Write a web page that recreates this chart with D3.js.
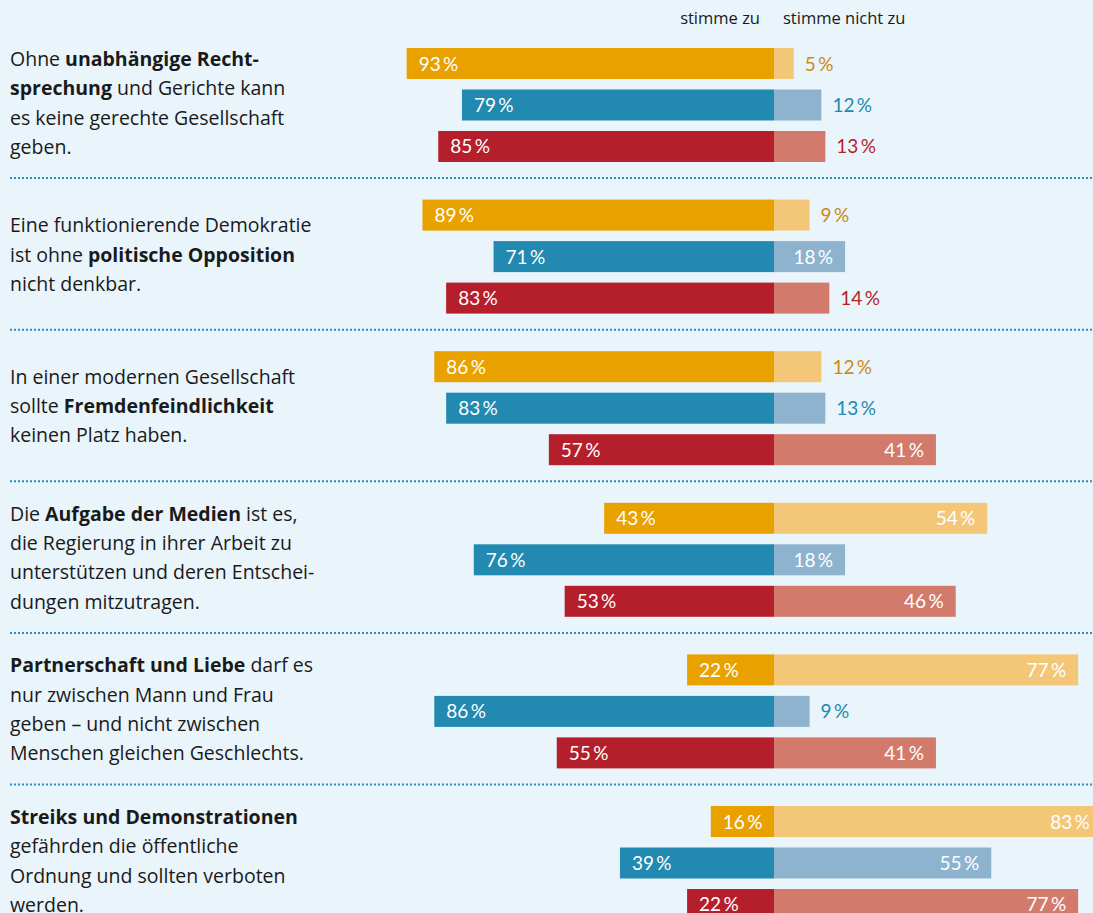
<!DOCTYPE html>
<html>
<head>
<meta charset="utf-8">
<script src="https://cdn.jsdelivr.net/npm/d3@7"></script>
<style>
  html, body { margin: 0; padding: 0; background: #e9f4fb; }
  svg { display: block; font-family: "Open Sans", Lato, sans-serif; }
</style>
</head>
<body>
<div id="container"></div>
<script>
// statements, one entry per line, **...** marks bold words
var statements = [
    ['Ohne **unabhängige Recht-**', '**sprechung** und Gerichte kann', 'es keine gerechte Gesellschaft', 'geben.'],
    ['Eine funktionierende Demokratie', 'ist ohne **politische Opposition**', 'nicht denkbar.'],
    ['In einer modernen Gesellschaft', 'sollte **Fremdenfeindlichkeit**', 'keinen Platz haben.'],
    ['Die **Aufgabe der Medien** ist es,', 'die Regierung in ihrer Arbeit zu', 'unterstützen und deren Entschei-', 'dungen mitzutragen.'],
    ['**Partnerschaft und Liebe** darf es', 'nur zwischen Mann und Frau', 'geben – und nicht zwischen', 'Menschen gleichen Geschlechts.'],
    ['**Streiks und Demonstrationen**', 'gefährden die öffentliche', 'Ordnung und sollten verboten', 'werden.']
];
var series = ['orange', 'blue', 'red'];
var agree = {
    orange: [93, 89, 86, 43, 22, 16],
    blue:   [79, 71, 83, 76, 86, 39],
    red:    [85, 83, 57, 53, 55, 22]
};
var disagree = {
    orange: [5, 9, 12, 54, 77, 83],
    blue:   [12, 18, 13, 18, 9, 55],
    red:    [13, 14, 41, 46, 41, 77]
};
var headers = ['stimme zu', 'stimme nicht zu'];

var colors = {
    orange: { dark: '#e9a100', light: '#f4c677', text: '#cf8912' },
    blue:   { dark: '#2289b0', light: '#8eb3cf', text: '#2289b0' },
    red:    { dark: '#b51f2b', light: '#d27b6d', text: '#b51f2b' }
};

var width = 1093,
    height = 913,
    center = 774;

var svg = d3.select('#container')
    .append('svg')
    .attr('width', width)
    .attr('height', height);

svg.append('rect')
    .attr('width', width)
    .attr('height', height)
    .attr('fill', '#e9f4fb');

var x = d3.scaleLinear()
    .domain([0, 100])
    .range([0, 395]);

var y = d3.scaleBand()
    .domain(d3.range(statements.length))
    .range([27, 27 + 151.6 * statements.length]);

var yInner = d3.scaleBand()
    .domain(series)
    .range([21, 135])
    .paddingInner(0.253);

// header
svg.append('text')
    .attr('x', center - 14)
    .attr('y', 24)
    .attr('text-anchor', 'end')
    .style('font-size', '16.5px')
    .attr('fill', '#1a1a1a')
    .text(headers[0]);
svg.append('text')
    .attr('x', center + 9)
    .attr('y', 24)
    .style('font-size', '16.5px')
    .attr('fill', '#1a1a1a')
    .text(headers[1]);

// dotted dividers between groups
svg.selectAll('line.divider')
    .data(d3.range(1, statements.length))
    .enter()
    .append('line')
    .attr('class', 'divider')
    .attr('x1', 10)
    .attr('x2', width)
    .attr('y1', function(d) { return y(d) - 0.5; })
    .attr('y2', function(d) { return y(d) - 0.5; })
    .attr('stroke', '#2f8dbd')
    .attr('stroke-width', 2)
    .attr('stroke-dasharray', '2,2');

var groups = svg.selectAll('g.group')
    .data(statements)
    .enter()
    .append('g')
    .attr('class', 'group')
    .attr('transform', function(d, i) { return 'translate(0,' + y(i) + ')'; });

// statement text
groups.each(function(lines, gi) {
    var g = d3.select(this);
    var mid = yInner('blue') + yInner.bandwidth() / 2 - 2;
    var lh = 29.3;
    var top = mid - (lines.length - 1) * lh / 2;
    lines.forEach(function(line, li) {
        var t = g.append('text')
            .attr('x', 10)
            .attr('y', top + li * lh + 7)
            .style('font-size', '19.5px')
            .attr('fill', '#1a1a1a');
        line.split('**').forEach(function(part, pi) {
            if (part === '') return;
            t.append('tspan')
                .style('font-weight', pi % 2 === 1 ? 700 : 400)
                .text(part);
        });
    });
});

function pct(v) {
    return v + '\u2009%';
}

groups.each(function(st, gi) {
    var g = d3.select(this);
    series.forEach(function(s) {
        var a = agree[s][gi],
            n = disagree[s][gi],
            by = yInner(s),
            bh = yInner.bandwidth();

        g.append('rect')
            .attr('x', center - x(a))
            .attr('y', by)
            .attr('width', x(a))
            .attr('height', bh)
            .attr('fill', colors[s].dark);
        g.append('rect')
            .attr('x', center)
            .attr('y', by)
            .attr('width', x(n))
            .attr('height', bh)
            .attr('fill', colors[s].light);

        g.append('text')
            .attr('x', center - x(a) + 12)
            .attr('y', by + bh / 2 + 7)
            .style('font-family', 'Lato, sans-serif')
            .style('font-size', '19px')
            .attr('fill', '#fff')
            .text(pct(a));

        var inside = n >= 15;
        g.append('text')
            .attr('x', inside ? center + x(n) - 12 : center + x(n) + 11)
            .attr('y', by + bh / 2 + 7)
            .attr('text-anchor', inside ? 'end' : 'start')
            .style('font-family', 'Lato, sans-serif')
            .style('font-size', '19px')
            .attr('fill', inside ? '#fff' : colors[s].text)
            .text(pct(n));
    });
});
</script>
</body>
</html>
